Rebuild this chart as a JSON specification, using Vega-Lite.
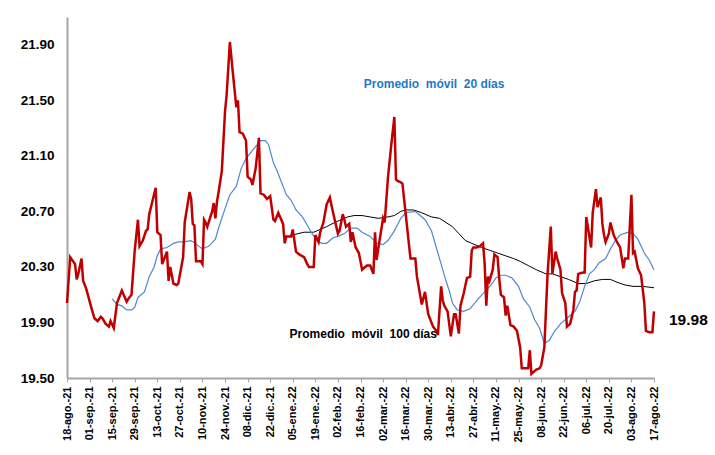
{
  "$schema": "https://vega.github.io/schema/vega-lite/v6.json",
  "width": 587,
  "height": 361,
  "autosize": {"type": "none"},
  "padding": {"left": 67, "top": 17, "right": 61, "bottom": 77},
  "background": "white",
  "config": {
    "font": "Liberation Sans",
    "view": {"stroke": null},
    "axis": {"grid": false, "title": null},
    "axisX": {"labelOverlap": false}
  },
  "datasets": {
    "fx": [
      {"d":"2021-08-18","v":20.04},{"d":"2021-08-20","v":20.37},{"d":"2021-08-23","v":20.32},{"d":"2021-08-24","v":20.21},{"d":"2021-08-25","v":20.25},{"d":"2021-08-27","v":20.36},{"d":"2021-08-28","v":20.20},{"d":"2021-08-30","v":20.14},{"d":"2021-09-02","v":20.01},{"d":"2021-09-04","v":19.93},{"d":"2021-09-06","v":19.91},{"d":"2021-09-08","v":19.94},{"d":"2021-09-09","v":19.93},{"d":"2021-09-11","v":19.89},{"d":"2021-09-13","v":19.87},{"d":"2021-09-14","v":19.91},{"d":"2021-09-16","v":19.86},{"d":"2021-09-18","v":20.04},{"d":"2021-09-21","v":20.13},{"d":"2021-09-24","v":20.05},{"d":"2021-09-25","v":20.07},{"d":"2021-09-27","v":20.10},{"d":"2021-09-29","v":20.42},{"d":"2021-10-01","v":20.64},{"d":"2021-10-02","v":20.45},{"d":"2021-10-04","v":20.49},{"d":"2021-10-06","v":20.56},{"d":"2021-10-07","v":20.57},{"d":"2021-10-08","v":20.68},{"d":"2021-10-12","v":20.87},{"d":"2021-10-13","v":20.55},{"d":"2021-10-15","v":20.53},{"d":"2021-10-16","v":20.32},{"d":"2021-10-19","v":20.41},{"d":"2021-10-20","v":20.20},{"d":"2021-10-21","v":20.30},{"d":"2021-10-23","v":20.18},{"d":"2021-10-25","v":20.17},{"d":"2021-10-26","v":20.18},{"d":"2021-10-29","v":20.37},{"d":"2021-10-30","v":20.62},{"d":"2021-11-02","v":20.84},{"d":"2021-11-03","v":20.79},{"d":"2021-11-04","v":20.61},{"d":"2021-11-05","v":20.60},{"d":"2021-11-06","v":20.34},{"d":"2021-11-09","v":20.34},{"d":"2021-11-10","v":20.32},{"d":"2021-11-11","v":20.64},{"d":"2021-11-12","v":20.62},{"d":"2021-11-13","v":20.59},{"d":"2021-11-16","v":20.70},{"d":"2021-11-17","v":20.76},{"d":"2021-11-18","v":20.65},{"d":"2021-11-19","v":20.77},{"d":"2021-11-20","v":20.84},{"d":"2021-11-22","v":20.99},{"d":"2021-11-24","v":21.42},{"d":"2021-11-25","v":21.54},{"d":"2021-11-27","v":21.92},{"d":"2021-11-29","v":21.68},{"d":"2021-12-01","v":21.45},{"d":"2021-12-02","v":21.50},{"d":"2021-12-03","v":21.27},{"d":"2021-12-05","v":21.26},{"d":"2021-12-07","v":21.21},{"d":"2021-12-08","v":20.95},{"d":"2021-12-10","v":20.93},{"d":"2021-12-11","v":20.89},{"d":"2021-12-13","v":21.01},{"d":"2021-12-15","v":21.23},{"d":"2021-12-16","v":20.83},{"d":"2021-12-18","v":20.82},{"d":"2021-12-20","v":20.79},{"d":"2021-12-22","v":20.81},{"d":"2021-12-24","v":20.64},{"d":"2021-12-25","v":20.63},{"d":"2021-12-27","v":20.69},{"d":"2021-12-30","v":20.61},{"d":"2021-12-31","v":20.47},{"d":"2022-01-01","v":20.52},{"d":"2022-01-04","v":20.52},{"d":"2022-01-05","v":20.57},{"d":"2022-01-07","v":20.41},{"d":"2022-01-09","v":20.39},{"d":"2022-01-12","v":20.37},{"d":"2022-01-14","v":20.32},{"d":"2022-01-15","v":20.30},{"d":"2022-01-18","v":20.30},{"d":"2022-01-19","v":20.53},{"d":"2022-01-21","v":20.48},{"d":"2022-01-22","v":20.55},{"d":"2022-01-24","v":20.62},{"d":"2022-01-26","v":20.75},{"d":"2022-01-28","v":20.80},{"d":"2022-01-30","v":20.69},{"d":"2022-02-02","v":20.54},{"d":"2022-02-03","v":20.56},{"d":"2022-02-05","v":20.68},{"d":"2022-02-06","v":20.64},{"d":"2022-02-07","v":20.59},{"d":"2022-02-09","v":20.61},{"d":"2022-02-10","v":20.48},{"d":"2022-02-11","v":20.55},{"d":"2022-02-13","v":20.44},{"d":"2022-02-15","v":20.40},{"d":"2022-02-17","v":20.28},{"d":"2022-02-18","v":20.29},{"d":"2022-02-20","v":20.31},{"d":"2022-02-22","v":20.31},{"d":"2022-02-24","v":20.25},{"d":"2022-02-25","v":20.55},{"d":"2022-02-26","v":20.35},{"d":"2022-02-27","v":20.43},{"d":"2022-03-02","v":20.65},{"d":"2022-03-03","v":20.62},{"d":"2022-03-05","v":20.94},{"d":"2022-03-07","v":21.17},{"d":"2022-03-09","v":21.38},{"d":"2022-03-10","v":20.93},{"d":"2022-03-11","v":20.92},{"d":"2022-03-13","v":20.91},{"d":"2022-03-14","v":20.90},{"d":"2022-03-19","v":20.36},{"d":"2022-03-22","v":20.36},{"d":"2022-03-23","v":20.23},{"d":"2022-03-26","v":20.03},{"d":"2022-03-28","v":20.12},{"d":"2022-03-30","v":19.96},{"d":"2022-04-02","v":19.87},{"d":"2022-04-04","v":19.84},{"d":"2022-04-05","v":19.81},{"d":"2022-04-07","v":20.16},{"d":"2022-04-08","v":20.06},{"d":"2022-04-09","v":20.02},{"d":"2022-04-11","v":19.98},{"d":"2022-04-13","v":19.80},{"d":"2022-04-15","v":19.96},{"d":"2022-04-16","v":19.96},{"d":"2022-04-18","v":19.82},{"d":"2022-04-19","v":20.02},{"d":"2022-04-21","v":20.11},{"d":"2022-04-23","v":20.22},{"d":"2022-04-25","v":20.23},{"d":"2022-04-26","v":20.42},{"d":"2022-04-27","v":20.44},{"d":"2022-04-29","v":20.44},{"d":"2022-05-01","v":20.45},{"d":"2022-05-03","v":20.47},{"d":"2022-05-04","v":20.32},{"d":"2022-05-05","v":20.02},{"d":"2022-05-06","v":20.23},{"d":"2022-05-07","v":20.20},{"d":"2022-05-09","v":20.28},{"d":"2022-05-10","v":20.39},{"d":"2022-05-12","v":20.37},{"d":"2022-05-13","v":20.22},{"d":"2022-05-14","v":20.10},{"d":"2022-05-16","v":20.08},{"d":"2022-05-17","v":19.95},{"d":"2022-05-18","v":20.02},{"d":"2022-05-20","v":19.88},{"d":"2022-05-22","v":19.87},{"d":"2022-05-24","v":19.84},{"d":"2022-05-26","v":19.72},{"d":"2022-05-27","v":19.57},{"d":"2022-05-31","v":19.57},{"d":"2022-06-01","v":19.70},{"d":"2022-06-02","v":19.53},{"d":"2022-06-05","v":19.56},{"d":"2022-06-07","v":19.57},{"d":"2022-06-08","v":19.59},{"d":"2022-06-10","v":19.72},{"d":"2022-06-12","v":20.25},{"d":"2022-06-14","v":20.59},{"d":"2022-06-15","v":20.25},{"d":"2022-06-17","v":20.41},{"d":"2022-06-18","v":20.36},{"d":"2022-06-20","v":20.28},{"d":"2022-06-21","v":20.11},{"d":"2022-06-23","v":20.04},{"d":"2022-06-24","v":19.87},{"d":"2022-06-26","v":19.89},{"d":"2022-06-28","v":19.99},{"d":"2022-06-29","v":20.12},{"d":"2022-06-30","v":20.13},{"d":"2022-07-01","v":20.25},{"d":"2022-07-04","v":20.26},{"d":"2022-07-05","v":20.26},{"d":"2022-07-06","v":20.66},{"d":"2022-07-09","v":20.44},{"d":"2022-07-10","v":20.69},{"d":"2022-07-12","v":20.86},{"d":"2022-07-13","v":20.73},{"d":"2022-07-15","v":20.80},{"d":"2022-07-16","v":20.61},{"d":"2022-07-17","v":20.53},{"d":"2022-07-18","v":20.48},{"d":"2022-07-20","v":20.54},{"d":"2022-07-21","v":20.62},{"d":"2022-07-23","v":20.53},{"d":"2022-07-25","v":20.48},{"d":"2022-07-27","v":20.44},{"d":"2022-07-29","v":20.29},{"d":"2022-07-30","v":20.36},{"d":"2022-08-01","v":20.36},{"d":"2022-08-03","v":20.82},{"d":"2022-08-04","v":20.40},{"d":"2022-08-05","v":20.41},{"d":"2022-08-06","v":20.35},{"d":"2022-08-07","v":20.29},{"d":"2022-08-09","v":20.24},{"d":"2022-08-11","v":20.04},{"d":"2022-08-12","v":19.84},{"d":"2022-08-14","v":19.83},{"d":"2022-08-16","v":19.83},{"d":"2022-08-17","v":19.98}
    ],
    "m20": [
      {"d":"2021-09-15","v":20.07},{"d":"2021-09-18","v":20.03},{"d":"2021-09-21","v":20.02},{"d":"2021-09-24","v":19.99},{"d":"2021-09-27","v":19.99},{"d":"2021-09-29","v":20.01},{"d":"2021-10-01","v":20.08},{"d":"2021-10-05","v":20.12},{"d":"2021-10-08","v":20.23},{"d":"2021-10-11","v":20.30},{"d":"2021-10-13","v":20.38},{"d":"2021-10-15","v":20.43},{"d":"2021-10-19","v":20.44},{"d":"2021-10-23","v":20.47},{"d":"2021-10-26","v":20.48},{"d":"2021-10-29","v":20.48},{"d":"2021-11-03","v":20.49},{"d":"2021-11-10","v":20.43},{"d":"2021-11-14","v":20.45},{"d":"2021-11-18","v":20.50},{"d":"2021-11-20","v":20.58},{"d":"2021-11-24","v":20.72},{"d":"2021-11-27","v":20.82},{"d":"2021-12-01","v":20.88},{"d":"2021-12-04","v":21.01},{"d":"2021-12-07","v":21.08},{"d":"2021-12-11","v":21.14},{"d":"2021-12-14","v":21.18},{"d":"2021-12-16","v":21.21},{"d":"2021-12-19","v":21.21},{"d":"2021-12-21","v":21.18},{"d":"2021-12-24","v":21.05},{"d":"2021-12-26","v":21.00},{"d":"2021-12-29","v":20.91},{"d":"2022-01-01","v":20.82},{"d":"2022-01-04","v":20.78},{"d":"2022-01-07","v":20.71},{"d":"2022-01-11","v":20.66},{"d":"2022-01-14","v":20.60},{"d":"2022-01-17","v":20.54},{"d":"2022-01-20","v":20.49},{"d":"2022-01-23","v":20.47},{"d":"2022-01-26","v":20.47},{"d":"2022-01-30","v":20.51},{"d":"2022-02-02","v":20.52},{"d":"2022-02-06","v":20.54},{"d":"2022-02-10","v":20.58},{"d":"2022-02-14","v":20.58},{"d":"2022-02-17","v":20.55},{"d":"2022-02-22","v":20.52},{"d":"2022-02-26","v":20.47},{"d":"2022-03-02","v":20.46},{"d":"2022-03-05","v":20.49},{"d":"2022-03-09","v":20.56},{"d":"2022-03-13","v":20.65},{"d":"2022-03-16","v":20.69},{"d":"2022-03-22","v":20.70},{"d":"2022-03-25","v":20.67},{"d":"2022-03-28","v":20.64},{"d":"2022-04-01","v":20.56},{"d":"2022-04-04","v":20.44},{"d":"2022-04-07","v":20.32},{"d":"2022-04-10","v":20.20},{"d":"2022-04-12","v":20.13},{"d":"2022-04-14","v":20.04},{"d":"2022-04-17","v":19.99},{"d":"2022-04-21","v":19.98},{"d":"2022-04-25","v":20.00},{"d":"2022-04-30","v":20.07},{"d":"2022-05-04","v":20.12},{"d":"2022-05-08","v":20.17},{"d":"2022-05-11","v":20.22},{"d":"2022-05-14","v":20.24},{"d":"2022-05-17","v":20.24},{"d":"2022-05-21","v":20.22},{"d":"2022-05-25","v":20.16},{"d":"2022-05-28","v":20.07},{"d":"2022-06-01","v":20.01},{"d":"2022-06-04","v":19.92},{"d":"2022-06-07","v":19.86},{"d":"2022-06-10","v":19.75},{"d":"2022-06-13","v":19.77},{"d":"2022-06-16","v":19.83},{"d":"2022-06-20","v":19.89},{"d":"2022-06-24","v":19.93},{"d":"2022-06-29","v":19.98},{"d":"2022-07-02","v":20.05},{"d":"2022-07-05","v":20.16},{"d":"2022-07-08","v":20.25},{"d":"2022-07-11","v":20.28},{"d":"2022-07-14","v":20.33},{"d":"2022-07-18","v":20.36},{"d":"2022-07-21","v":20.43},{"d":"2022-07-24","v":20.49},{"d":"2022-07-27","v":20.53},{"d":"2022-08-01","v":20.55},{"d":"2022-08-04","v":20.54},{"d":"2022-08-07","v":20.50},{"d":"2022-08-11","v":20.40},{"d":"2022-08-14","v":20.35},{"d":"2022-08-17","v":20.28}
    ],
    "m100": [
      {"d":"2022-01-05","v":20.53},{"d":"2022-01-12","v":20.55},{"d":"2022-01-18","v":20.55},{"d":"2022-01-22","v":20.57},{"d":"2022-01-26","v":20.59},{"d":"2022-01-31","v":20.62},{"d":"2022-02-04","v":20.64},{"d":"2022-02-08","v":20.66},{"d":"2022-02-12","v":20.67},{"d":"2022-02-17","v":20.67},{"d":"2022-02-22","v":20.66},{"d":"2022-02-27","v":20.65},{"d":"2022-03-05","v":20.66},{"d":"2022-03-09","v":20.67},{"d":"2022-03-13","v":20.70},{"d":"2022-03-16","v":20.71},{"d":"2022-03-21","v":20.71},{"d":"2022-03-26","v":20.69},{"d":"2022-04-01","v":20.66},{"d":"2022-04-06","v":20.65},{"d":"2022-04-10","v":20.62},{"d":"2022-04-14","v":20.59},{"d":"2022-04-18","v":20.54},{"d":"2022-04-22","v":20.49},{"d":"2022-04-26","v":20.47},{"d":"2022-05-02","v":20.44},{"d":"2022-05-07","v":20.42},{"d":"2022-05-12","v":20.40},{"d":"2022-05-17","v":20.38},{"d":"2022-05-22","v":20.36},{"d":"2022-05-26","v":20.34},{"d":"2022-05-31","v":20.31},{"d":"2022-06-05","v":20.28},{"d":"2022-06-11","v":20.25},{"d":"2022-06-15","v":20.25},{"d":"2022-06-20","v":20.23},{"d":"2022-06-25","v":20.21},{"d":"2022-07-01","v":20.18},{"d":"2022-07-06","v":20.18},{"d":"2022-07-11","v":20.20},{"d":"2022-07-16","v":20.21},{"d":"2022-07-21","v":20.21},{"d":"2022-07-25","v":20.19},{"d":"2022-07-30","v":20.17},{"d":"2022-08-04","v":20.16},{"d":"2022-08-10","v":20.16},{"d":"2022-08-17","v":20.15}
    ]
  },
  "encoding": {
    "x": {
      "field": "d", "type": "temporal",
      "scale": {"domain": [{"year": 2021, "month": "aug", "date": 18}, {"year": 2022, "month": "aug", "date": 17}], "nice": false},
      "axis": {
        "values": [
          {"year":2021,"month":"aug","date":18},{"year":2021,"month":"sep","date":1},{"year":2021,"month":"sep","date":15},{"year":2021,"month":"sep","date":29},{"year":2021,"month":"oct","date":13},{"year":2021,"month":"oct","date":27},{"year":2021,"month":"nov","date":10},{"year":2021,"month":"nov","date":24},{"year":2021,"month":"dec","date":8},{"year":2021,"month":"dec","date":22},
          {"year":2022,"month":"jan","date":5},{"year":2022,"month":"jan","date":19},{"year":2022,"month":"feb","date":2},{"year":2022,"month":"feb","date":16},{"year":2022,"month":"mar","date":2},{"year":2022,"month":"mar","date":16},{"year":2022,"month":"mar","date":30},{"year":2022,"month":"apr","date":13},{"year":2022,"month":"apr","date":27},{"year":2022,"month":"may","date":11},{"year":2022,"month":"may","date":25},{"year":2022,"month":"jun","date":8},{"year":2022,"month":"jun","date":22},{"year":2022,"month":"jul","date":6},{"year":2022,"month":"jul","date":20},{"year":2022,"month":"aug","date":3},{"year":2022,"month":"aug","date":17}
        ],
        "labelExpr": "timeFormat(datum.value, '%d') + '-' + ['ene.','feb.','mar.','abr.','may.','jun.','jul.','ago.','sep.','oct.','nov.','dic.'][month(datum.value)] + '-' + timeFormat(datum.value, '%y')",
        "labelAngle": 270,
        "labelFontSize": 11,
        "labelFontWeight": "bold",
        "labelColor": "#000000",
        "labelPadding": 4,
        "labelOverlap": false,
        "labelSeparation": 0,
        "labelFlush": false,
        "tickSize": 4,
        "tickColor": "#a6a6a6",
        "domainColor": "#a6a6a6",
        "domainWidth": 2
      }
    },
    "y": {
      "field": "v", "type": "quantitative",
      "scale": {"domain": [19.5, 22.1], "nice": false, "zero": false},
      "axis": {
        "values": [19.5, 19.9, 20.3, 20.7, 21.1, 21.5, 21.9],
        "format": ".2f",
        "labelFontSize": 13.5,
        "labelFontWeight": "bold",
        "labelColor": "#000000",
        "labelPadding": 13,
        "ticks": false,
        "domainColor": "#a6a6a6",
        "domainWidth": 2
      }
    }
  },
  "layer": [
    {
      "data": {"name": "m100", "format": {"parse": {"d": "date:'%Y-%m-%d'"}}},
      "mark": {"type": "line", "color": "#000000", "strokeWidth": 1}
    },
    {
      "data": {"name": "m20", "format": {"parse": {"d": "date:'%Y-%m-%d'"}}},
      "mark": {"type": "line", "color": "#4f88cf", "strokeWidth": 1.2}
    },
    {
      "data": {"name": "fx", "format": {"parse": {"d": "date:'%Y-%m-%d'"}}},
      "mark": {"type": "line", "color": "#c00000", "strokeWidth": 2.5}
    },
    {
      "data": {"values": [{"d": "2022-02-18", "v": 21.62, "t": "Promedio\u00a0 móvil\u00a0 20 días"}], "format": {"parse": {"d": "date:'%Y-%m-%d'"}}},
      "mark": {"type": "text", "align": "left", "baseline": "middle", "fontSize": 12, "fontWeight": "bold", "color": "#1f78c8"},
      "encoding": {"text": {"field": "t"}}
    },
    {
      "data": {"values": [{"d": "2022-01-03", "v": 19.815, "t": "Promedio\u00a0 móvil\u00a0 100 días"}], "format": {"parse": {"d": "date:'%Y-%m-%d'"}}},
      "mark": {"type": "text", "align": "left", "baseline": "middle", "fontSize": 12, "fontWeight": "bold", "color": "#000000"},
      "encoding": {"text": {"field": "t"}}
    },
    {
      "data": {"values": [{"d": "2022-08-17", "v": 19.98, "t": "19.98"}], "format": {"parse": {"d": "date:'%Y-%m-%d'"}}},
      "mark": {"type": "text", "align": "left", "baseline": "middle", "dx": 15, "dy": 9, "fontSize": 15.5, "fontWeight": "bold", "color": "#000000"},
      "encoding": {"text": {"field": "t"}}
    }
  ]
}
